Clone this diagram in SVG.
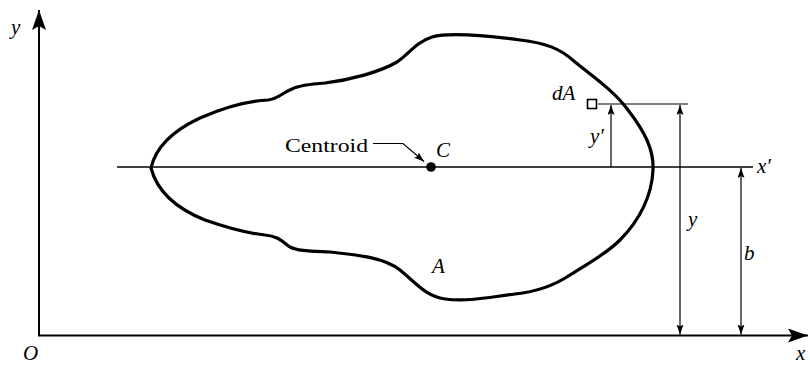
<svg xmlns="http://www.w3.org/2000/svg" width="810" height="365" viewBox="0 0 810 365">
<defs>
<style>
.lbl{font-family:"Liberation Serif","Times New Roman",serif;font-style:italic;font-size:21px;fill:#000}
.rom{font-family:"Liberation Serif","Times New Roman",serif;font-size:18px;fill:#000}
.thin{stroke:#000;stroke-width:1.2;fill:none}
.axis{stroke:#000;stroke-width:2;fill:none}
</style>
<marker id="ah" markerUnits="userSpaceOnUse" markerWidth="12" markerHeight="8" refX="10" refY="3.5" orient="auto-start-reverse">
<path d="M0,0 L10,3.5 L0,7 L2,3.5 Z" fill="#000"/>
</marker>
<marker id="big" markerUnits="userSpaceOnUse" markerWidth="22" markerHeight="16" refX="20" refY="7" orient="auto">
<path d="M0,0 L20,7 L0,14 L4,7 Z" fill="#000"/>
</marker>
</defs>

<g id="axes">
<line class="axis" x1="39" y1="336" x2="39" y2="10" marker-end="url(#big)"/>
<line class="axis" x1="38" y1="335.5" x2="808" y2="335.5" marker-end="url(#big)"/>
<text class="lbl" x="11" y="34">y</text>
<text class="lbl" x="796" y="360" font-size="20">x</text>
<text class="lbl" x="23" y="360" font-size="20">O</text>
</g>

<g id="xprime">
<line x1="117" y1="167" x2="753" y2="167" stroke="#000" stroke-width="1.4"/>
<text class="lbl" x="757" y="173">x′</text>
</g>

<g id="area">
<path d="M151,168 C155,150 170,132 200,118 C225,107 245,101 268,100 C278,99 282,93 292,89 C300,85 310,84 325,83 C350,80 380,72 397,62 C408,55 416,42 432,37 C450,32 490,36 520,40 C545,43 560,48 575,62 C595,78 615,92 628,110 C645,132 654,150 653,170 C652,195 640,220 620,240 C605,255 590,262 570,275 C552,287 535,292 515,294 C490,297 468,302 445,299 C425,296 415,282 400,270 C385,258 360,255 330,252 C310,251 298,251 290,247 C283,242 278,236 265,235 C245,233 225,227 205,220 C180,210 158,195 151,168 Z" fill="none" stroke="#000" stroke-width="3.2" stroke-linejoin="round"/>
<text class="lbl" x="432" y="273">A</text>
</g>

<g id="centroid">
<circle cx="431" cy="167" r="4.8" fill="#000"/>
<text class="lbl" x="436" y="157">C</text>
<text class="rom" x="285" y="152" textLength="83" lengthAdjust="spacingAndGlyphs">Centroid</text>
</g>

<g id="dA">
<rect x="587.5" y="99.5" width="9" height="9" fill="none" stroke="#000" stroke-width="1.6"/>
<text class="lbl" x="552" y="100">dA</text>
</g>

<g id="connectors">
<path class="thin" d="M373,143.5 L403,143.5 L424,161.5" marker-end="url(#ah)"/>
<line class="thin" x1="598" y1="104" x2="688" y2="104"/>
<line class="thin" x1="611" y1="167" x2="611" y2="105" marker-end="url(#ah)"/>
<line class="thin" x1="680" y1="105" x2="680" y2="334.5" marker-start="url(#ah)" marker-end="url(#ah)"/>
<line class="thin" x1="741" y1="168" x2="741" y2="334.5" marker-start="url(#ah)" marker-end="url(#ah)"/>
</g>

<g id="labels">
<text class="lbl" x="590" y="143">y′</text>
<text class="lbl" x="688" y="226">y</text>
<text class="lbl" x="744" y="260">b</text>
</g>
</svg>
